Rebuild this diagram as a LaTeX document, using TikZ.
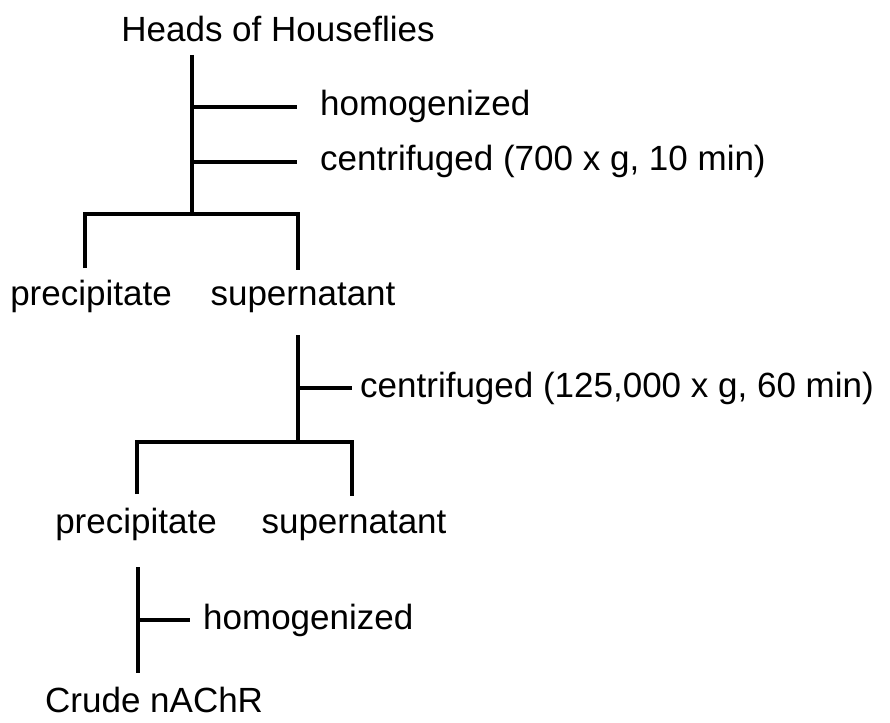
\documentclass[tikz,border=0pt]{standalone}
\usepackage{fontspec}
\setmainfont{Liberation Sans}
\usetikzlibrary{positioning}
\tikzstyle{material} = [inner sep=0pt, font=\fontsize{35}{42}\selectfont, anchor=base]
\tikzstyle{treatment} = [inner sep=0pt, font=\fontsize{35}{42}\selectfont, anchor=base west]
\tikzstyle{branch} = [line width=3.5pt, line join=miter]
\begin{document}
\begin{tikzpicture}[x=1pt, y=-1pt]
    \useasboundingbox (0,0) rectangle (890,722);

    % first step
    \node (heads) [material] at (278,42) {Heads of Houseflies};
    \coordinate (stema) at (192,55);
    \coordinate (splita) at (192,214);
    \node (homoga) [treatment] at (320,116) {homogenized};
    \node (centra) [treatment] at (320,171) {centrifuged (700 x g, 10 min)};
    \coordinate (splitaleft) at (85,214);
    \coordinate (splitaright) at (298,214);
    \coordinate (ends1) at (85,268);
    \coordinate (ends2) at (298,270);
    \node (preca) [material] at (91,305) {precipitate};
    \node (supera) [material] at (303,305) {supernatant};

    % second step
    \coordinate (stemb) at (298,335);
    \coordinate (splitb) at (298,442);
    \node (centrb) [treatment] at (360,397) {centrifuged (125,000 x g, 60 min)};
    \coordinate (splitbleft) at (137,442);
    \coordinate (splitbright) at (352,442);
    \coordinate (ends3) at (137,494);
    \coordinate (ends4) at (352,496);
    \node (precb) [material] at (136,533) {precipitate};
    \node (superb) [material] at (354,533) {supernatant};

    % third step
    \coordinate (stemc) at (138,567);
    \coordinate (stemcend) at (138,673);
    \node (homogc) [treatment] at (203,629) {homogenized};
    \node (crude) [treatment] at (45,712) {Crude nAChR};

    \draw [branch] (stema) -- (splita);
    \draw [branch, shorten >=23pt] (homoga.west -| stema) -- (homoga.west);
    \draw [branch, shorten >=23pt] (centra.west -| stema) -- (centra.west);
    \draw [branch] (ends1) -- (splitaleft) -- (splitaright) -- (ends2);

    \draw [branch] (stemb) -- (splitb);
    \draw [branch, shorten >=8pt] (centrb.west -| stemb) -- (centrb.west);
    \draw [branch] (ends3) -- (splitbleft) -- (splitbright) -- (ends4);

    \draw [branch] (stemc) -- (stemcend);
    \draw [branch, shorten >=13pt] (homogc.west -| stemc) -- (homogc.west);

\end{tikzpicture}
\end{document}
